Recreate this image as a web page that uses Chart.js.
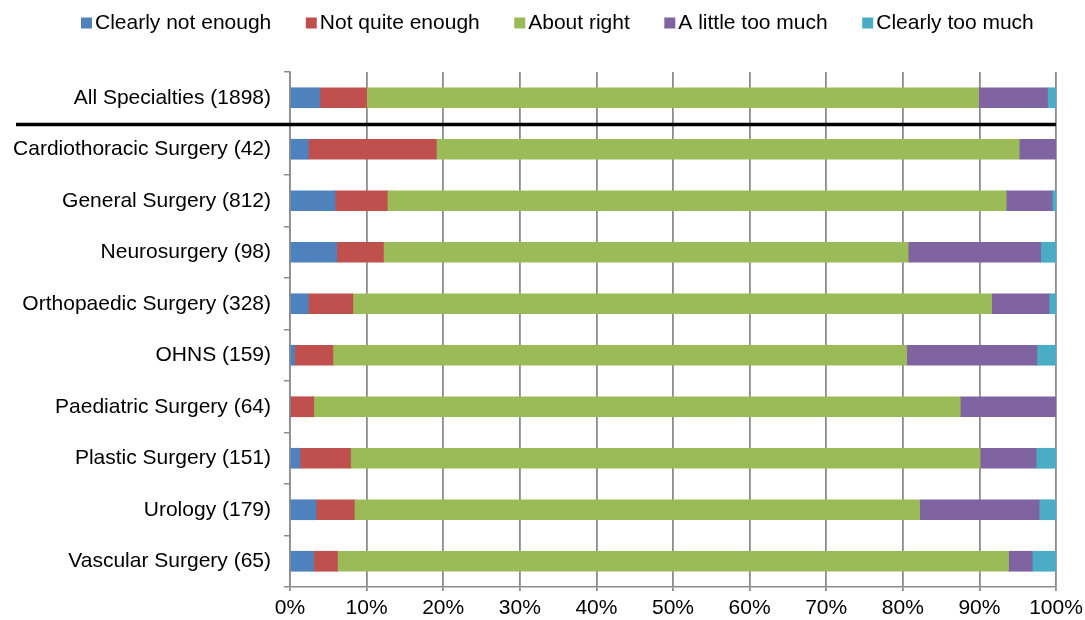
<!DOCTYPE html>
<html>
<head>
<meta charset="utf-8">
<script src="https://cdn.jsdelivr.net/npm/chart.js@4/dist/chart.umd.min.js"></script>
<style>
    html, body { margin: 0; padding: 0; background: #fff; }
    #wrap { width: 1085px; height: 620px; }
</style>
</head>
<body>
<div id="wrap"><canvas id="chart" width="1085" height="620"></canvas></div>
<script>
const specialties = [
    "All Specialties (1898)",
    "Cardiothoracic Surgery (42)",
    "General Surgery (812)",
    "Neurosurgery (98)",
    "Orthopaedic Surgery (328)",
    "OHNS (159)",
    "Paediatric Surgery (64)",
    "Plastic Surgery (151)",
    "Urology (179)",
    "Vascular Surgery (65)"
];
const seriesNames = ["Clearly not enough", "Not quite enough", "About right", "A little too much", "Clearly too much"];
const clearlyNotEnough = [3.9, 2.4, 5.9, 6.1, 2.4, 0.6, 0, 1.3, 3.4, 3.1];
const notQuiteEnough = [6.1, 16.7, 6.8, 6.1, 5.8, 5.0, 3.1, 6.6, 5.0, 3.1];
const aboutRight = [79.9, 76.1, 80.8, 68.5, 83.4, 74.9, 84.4, 82.2, 73.8, 87.6];
const aLittleTooMuch = [9.0, 4.8, 6.0, 17.3, 7.5, 17.0, 12.5, 7.3, 15.6, 3.1];
const clearlyTooMuch = [1.1, 0, 0.5, 2.0, 0.9, 2.5, 0, 2.6, 2.2, 3.1];
const xTicks = [0, 10, 20, 30, 40, 50, 60, 70, 80, 90, 100];

const colors = ["#4f81bd", "#c0504d", "#9bbb59", "#8064a2", "#4bacc6"];
const seriesValues = [clearlyNotEnough, notQuiteEnough, aboutRight, aLittleTooMuch, clearlyTooMuch];
const gridColor = "#8c8c8c";
const fontFamily = "'Liberation Sans', Arial, sans-serif";

Chart.defaults.font.family = fontFamily;
Chart.defaults.font.size = 21;
Chart.defaults.color = "#000";

// thick black separator under the "All Specialties" row
const separatorLine = {
    id: "separatorLine",
    afterDraw(chart) {
        const y = chart.scales.y;
        const x = chart.scales.x;
        const yPos = (y.getPixelForValue(0) + y.getPixelForValue(1)) / 2 + 1;
        const ctx = chart.ctx;
        ctx.save();
        ctx.strokeStyle = "#000";
        ctx.lineWidth = 3.5;
        ctx.beginPath();
        ctx.moveTo(16, yPos);
        ctx.lineTo(x.right, yPos);
        ctx.stroke();
        ctx.restore();
    }
};

// Excel-like legend: small square right next to its text
const topLegend = {
    id: "topLegend",
    afterDraw(chart) {
        const ctx = chart.ctx;
        ctx.save();
        ctx.font = "21px " + fontFamily;
        ctx.textBaseline = "middle";
        let x = 81;
        chart.data.datasets.forEach((ds) => {
            ctx.fillStyle = ds.backgroundColor;
            ctx.fillRect(x, 17.5, 11, 11);
            ctx.fillStyle = "#000";
            ctx.fillText(ds.label, x + 14, 23);
            x += 14 + ctx.measureText(ds.label).width + 34.5;
        });
        ctx.restore();
    }
};

new Chart(document.getElementById("chart"), {
    type: "bar",
    data: {
        labels: specialties,
        datasets: seriesNames.map((name, i) => ({
            label: name,
            data: seriesValues[i],
            backgroundColor: colors[i],
            borderWidth: 0,
            barThickness: 20
        }))
    },
    options: {
        indexAxis: "y",
        responsive: false,
        animation: false,
        layout: {
            padding: { top: 72, right: 29, bottom: 0, left: 0 }
        },
        plugins: {
            legend: { display: false },
            tooltip: { enabled: false }
        },
        scales: {
            x: {
                stacked: true,
                min: 0,
                max: 100,
                afterBuildTicks(scale) {
                    scale.ticks = xTicks.map((v) => ({ value: v }));
                },
                afterFit(scale) {
                    scale.height = 33;
                    scale.paddingRight = 0;
                },
                ticks: {
                    padding: 5,
                    maxRotation: 0,
                    callback: (v) => v + "%"
                },
                grid: {
                    color: gridColor,
                    lineWidth: 1.8,
                    tickLength: 4
                },
                border: { color: gridColor, width: 1.5 }
            },
            y: {
                stacked: true,
                afterFit(scale) {
                    scale.width = 290;
                },
                ticks: {
                    padding: 13
                },
                grid: {
                    offset: true,
                    drawOnChartArea: false,
                    color: gridColor,
                    lineWidth: 1.5,
                    tickLength: 6
                },
                border: { color: gridColor, width: 1.5 }
            }
        }
    },
    plugins: [separatorLine, topLegend]
});
</script>
</body>
</html>
